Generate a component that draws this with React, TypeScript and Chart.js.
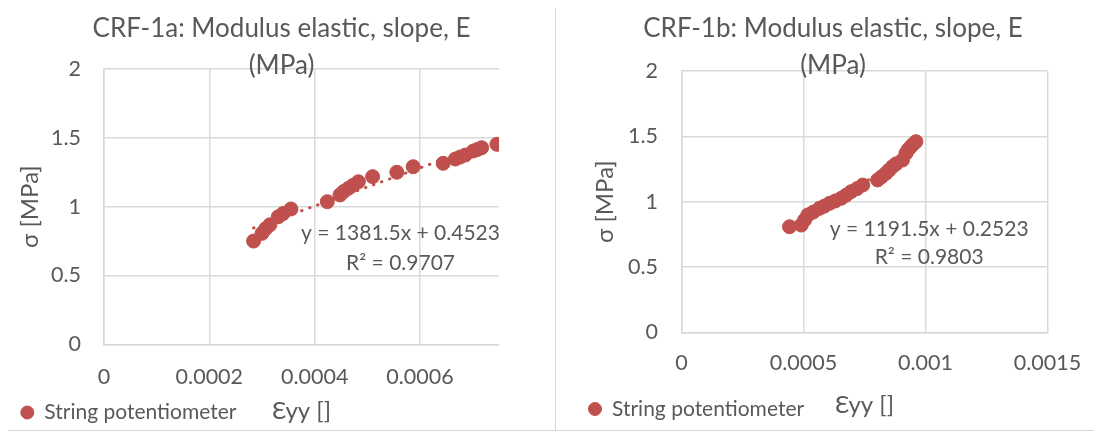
import React, { useEffect, useRef } from "react";
import { Chart, registerables } from "chart.js";

Chart.register(...registerables);

// ---------- data ----------
const TITLE_A = ["CRF-1a: Modulus elastic, slope, E", "(MPa)"];
const TITLE_B = ["CRF-1b: Modulus elastic, slope, E", "(MPa)"];
const SERIES_LABEL = "String potentiometer";
const X_TITLE = "Ɛyy []";
const Y_TITLE = "σ [MPa]";

const STRAIN_A = [
  0.000284, 0.0003, 0.000307, 0.000315, 0.000331, 0.00034, 0.000355, 0.000424,
  0.000448, 0.000455, 0.000464, 0.000473, 0.000483, 0.00051, 0.000556, 0.000587,
  0.000644, 0.000667, 0.000676, 0.000686, 0.000701, 0.000709, 0.000717, 0.000746,
];
const STRESS_A = [
  0.75, 0.806, 0.84, 0.868, 0.927, 0.95, 0.983, 1.036,
  1.085, 1.11, 1.133, 1.155, 1.181, 1.218, 1.25, 1.29,
  1.315, 1.346, 1.36, 1.375, 1.404, 1.415, 1.428, 1.453,
];

const STRAIN_B = [
  0.000443, 0.000491, 0.000505, 0.000518, 0.00054, 0.000566, 0.000585, 0.000607,
  0.00063, 0.000655, 0.000675, 0.000695, 0.00072, 0.000743, 0.000804, 0.00082,
  0.000838, 0.00085, 0.000865, 0.00088, 0.000906, 0.00092, 0.00093, 0.00094,
  0.00095, 0.000961,
];
const STRESS_B = [
  0.808, 0.821, 0.86, 0.898, 0.92, 0.949, 0.965, 0.987,
  1.005, 1.026, 1.05, 1.076, 1.1, 1.127, 1.166, 1.19,
  1.217, 1.24, 1.268, 1.29, 1.319, 1.37, 1.4, 1.421,
  1.44, 1.459,
];

const TREND_A = { slope: 1381.5, intercept: 0.4523 };
const TREND_B = { slope: 1191.5, intercept: 0.2523 };
const EQ_A = ["y = 1381.5x + 0.4523", "R² = 0.9707"];
const EQ_B = ["y = 1191.5x + 0.2523", "R² = 0.9803"];

const X_TICKS_A = [0, 0.0002, 0.0004, 0.0006];
const X_MAX_A = 0.00075;
const X_TICKS_B = [0, 0.0005, 0.001, 0.0015];
const X_MAX_B = 0.0015;
const Y_TICKS = [0, 0.5, 1, 1.5, 2];

// ---------- style ----------
const FONT = "Lato, 'Open Sans', sans-serif";
const TEXT = "#595959";
const GRID = "#d9d9d9";
const RED = "#C0504D";
const CW = 547;
const CH = 422;
const TICK_SIZE = 21.5;
const AXIS_TITLE_SIZE = 24;
const TITLE_SIZE = 26;
const LEGEND_SIZE = 21;
const EQ_SIZE = 21;

const eqPlugin = {
  id: "eqLabel",
  afterDatasetsDraw(chart: any, _args: any, opts: any) {
    if (!opts || !opts.lines) return;
    const { ctx } = chart;
    const xs = chart.scales.x;
    const ys = chart.scales.y;
    ctx.save();
    ctx.font = `${opts.size}px ${FONT}`;
    ctx.fillStyle = TEXT;
    ctx.textAlign = "center";
    ctx.textBaseline = "middle";
    opts.lines.forEach((line: string, i: number) => {
      ctx.fillText(line, xs.getPixelForValue(opts.x), ys.getPixelForValue(opts.y[i]));
    });
    ctx.restore();
  },
};

type PanelProps = {
  title: string[];
  strain: number[];
  stress: number[];
  trend: { slope: number; intercept: number };
  eq: string[];
  xTicks: number[];
  xMax: number;
  lay: any;
};

function Panel({ title, strain, stress, trend, eq, xTicks, xMax, lay }: PanelProps) {
  const ref = useRef<HTMLCanvasElement>(null);
  useEffect(() => {
    if (!ref.current) return;
    const pts = strain.map((x, i) => ({ x, y: stress[i] }));
    const x0 = Math.min(...strain);
    const x1 = Math.max(...strain);
    const trendPts = [
      { x: x0, y: trend.slope * x0 + trend.intercept },
      { x: x1, y: trend.slope * x1 + trend.intercept },
    ];
    const chart = new Chart(ref.current, {
      type: "scatter",
      data: {
        datasets: [
          {
            label: SERIES_LABEL,
            data: pts,
            backgroundColor: RED,
            borderColor: RED,
            pointRadius: 7,
            pointBorderWidth: 1,
            order: 2,
          },
          {
            label: "trend",
            data: trendPts,
            showLine: true,
            pointRadius: 0,
            borderColor: RED,
            borderWidth: 3,
            borderDash: [0.5, 8],
            borderCapStyle: "round",
            order: 1,
          } as any,
        ],
      },
      options: {
        animation: false,
        responsive: false,
        layout: {
          padding: { left: lay.padLeft, right: lay.padRightLayout, top: 0, bottom: lay.padBottom },
        },
        plugins: {
          title: {
            display: true,
            text: title,
            color: TEXT,
            font: { family: FONT, size: TITLE_SIZE, weight: "normal", lineHeight: 37 / TITLE_SIZE },
            padding: { top: lay.titleTop, bottom: lay.titleBottom },
          },
          legend: {
            position: "bottom",
            align: "start",
            labels: {
              usePointStyle: true,
              pointStyle: "circle",
              pointStyleWidth: 13,
              boxHeight: 9.2,
              padding: lay.legendPad,
              color: TEXT,
              font: { family: FONT, size: LEGEND_SIZE },
              filter: (item: any) => item.datasetIndex === 0,
            },
          },
          tooltip: { enabled: false },
          eqLabel: { lines: eq, x: lay.eqX, y: lay.eqY, size: EQ_SIZE },
        } as any,
        scales: {
          x: {
            type: "linear",
            min: 0,
            max: xMax,
            afterBuildTicks: (s: any) => {
              s.ticks = xTicks.map((v) => ({ value: v }));
            },
            afterFit: (s: any) => {
              s.height = lay.xHeight;
              s.paddingRight = lay.padRight;
            },
            grid: { color: GRID, lineWidth: 1.5, drawTicks: false },
            border: { color: GRID, width: 1.5 },
            ticks: {
              color: TEXT,
              font: { family: FONT, size: TICK_SIZE },
              padding: lay.xTickPad,
              maxRotation: 0,
              callback: (v: any) => String(v),
            },
            title: {
              display: true,
              text: X_TITLE,
              color: TEXT,
              font: { family: FONT, size: AXIS_TITLE_SIZE },
              padding: { top: 0, bottom: lay.xTitleBottom },
            },
          },
          y: {
            type: "linear",
            min: 0,
            max: 2,
            afterBuildTicks: (s: any) => {
              s.ticks = Y_TICKS.map((v) => ({ value: v }));
            },
            afterFit: (s: any) => {
              s.width = lay.yWidth;
            },
            grid: { color: GRID, lineWidth: 1.5, drawTicks: false },
            border: { color: GRID, width: 1.5 },
            ticks: {
              color: TEXT,
              font: { family: FONT, size: TICK_SIZE },
              padding: lay.yTickPad,
              callback: (v: any) => String(v),
            },
            title: {
              display: true,
              text: Y_TITLE,
              color: TEXT,
              font: { family: FONT, size: AXIS_TITLE_SIZE },
              padding: { top: lay.yTitleTop, bottom: 0 },
            },
          },
        },
      },
      plugins: [eqPlugin],
    });
    return () => chart.destroy();
  }, []);
  return (
    <canvas
      ref={ref}
      width={CW}
      height={CH}
      style={{ display: "block", width: CW, height: CH }}
    />
  );
}

const LAY_A = {
  padLeft: 0,
  padRightLayout: 0,
  padBottom: -3,
  titleTop: 1.8,
  titleBottom: -14.8,
  legendPad: 12.8,
  xHeight: 44.9,
  padRight: 56,
  xTickPad: 19.5,
  xTitleBottom: -36.9,
  yWidth: 96,
  yTickPad: 23,
  yTitleTop: 7.6,
  eqX: 0.000563,
  eqY: [0.809, 0.591],
};

const LAY_B = {
  padLeft: 20,
  padRightLayout: 13,
  padBottom: 0.5,
  titleTop: 2.5,
  titleBottom: -13.5,
  legendPad: 12.5,
  xHeight: 53.7,
  padRight: 55.5,
  xTickPad: 17.8,
  xTitleBottom: -33.4,
  yWidth: 105.4,
  yTickPad: 23.4,
  yTitleTop: 14.6,
  eqX: 0.001015,
  eqY: [0.791, 0.576],
};

export default function App() {
  const border = "1px solid #d6d6d6";
  return (
    <div style={{ display: "flex", marginLeft: -1, marginTop: -1, background: "#fff" }}>
      <div style={{ border, width: CW, height: CH }}>
        <Panel
          title={TITLE_A}
          strain={STRAIN_A}
          stress={STRESS_A}
          trend={TREND_A}
          eq={EQ_A}
          xTicks={X_TICKS_A}
          xMax={X_MAX_A}
          lay={LAY_A}
        />
      </div>
      <div style={{ borderTop: border, borderRight: border, borderBottom: border, width: CW, height: CH }}>
        <Panel
          title={TITLE_B}
          strain={STRAIN_B}
          stress={STRESS_B}
          trend={TREND_B}
          eq={EQ_B}
          xTicks={X_TICKS_B}
          xMax={X_MAX_B}
          lay={LAY_B}
        />
      </div>
    </div>
  );
}
